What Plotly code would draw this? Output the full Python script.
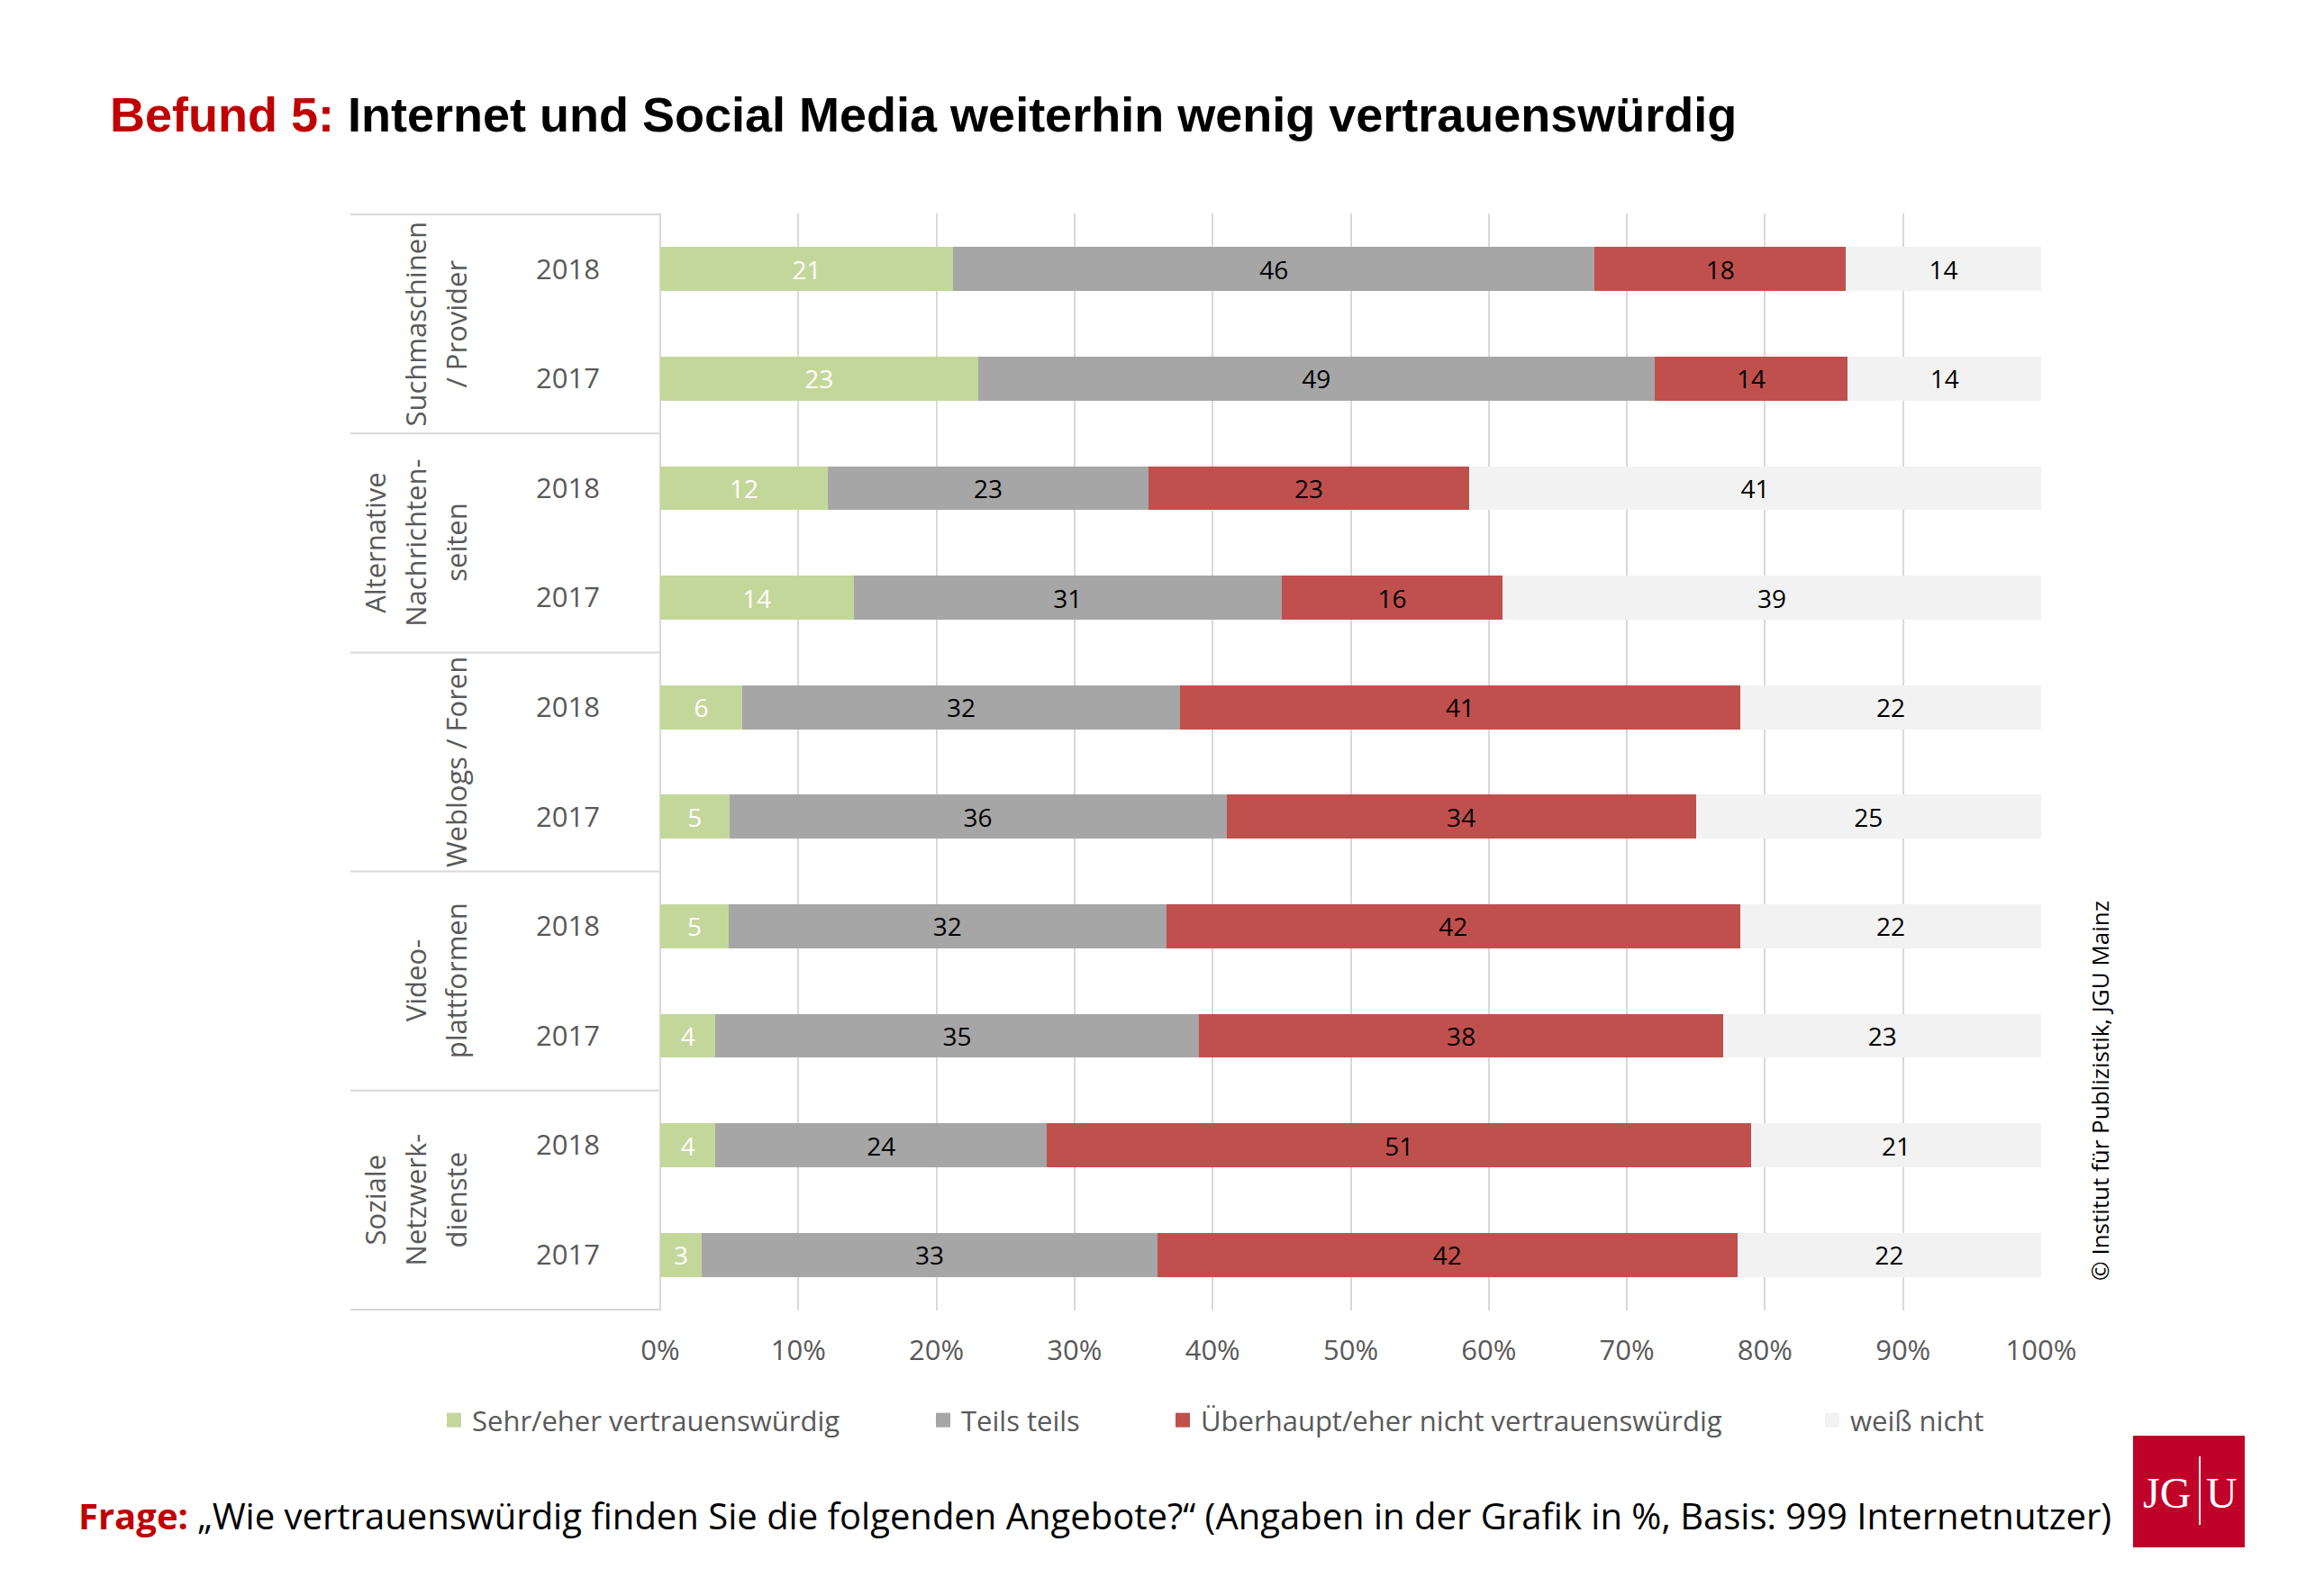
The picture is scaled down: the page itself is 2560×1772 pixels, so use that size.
import plotly.graph_objects as go

# ---------------- data ----------------
groups = ["Suchmaschinen / Provider", "Alternative Nachrichtenseiten", "Weblogs / Foren",
          "Videoplattformen", "Soziale Netzwerkdienste"]
group_label_lines = [["Suchmaschinen", "/ Provider"],
                     ["Alternative", "Nachrichten-", "seiten"],
                     ["Weblogs / Foren"],
                     ["Video-", "plattformen"],
                     ["Soziale", "Netzwerk-", "dienste"]]
years = ["2018", "2017"]
categories = [f"{g} {y}" for g in groups for y in years]   # top to bottom
year_labels = [y for g in groups for y in years]

sehr_eher = [21, 23, 12, 14, 6, 5, 5, 4, 4, 3]
teils_teils = [46, 49, 23, 31, 32, 36, 32, 35, 24, 33]
nicht_vertrauen = [18, 14, 23, 16, 41, 34, 42, 38, 51, 42]
weiss_nicht = [14, 14, 41, 39, 22, 25, 22, 23, 21, 22]

series_names = ["Sehr/eher vertrauenswürdig", "Teils teils",
                "Überhaupt/eher nicht vertrauenswürdig", "weiß nicht"]
series_values = [sehr_eher, teils_teils, nicht_vertrauen, weiss_nicht]
x_ticks = list(range(0, 101, 10))

# ---------------- styles ----------------
W, H = 2560, 1772
L, R, T, B = 733, 2266, 237, 1455
PW, PH = R - L, B - T

colors = ["#C4D79B", "#A6A6A6", "#C0504D", "#F2F2F2"]
text_colors = ["#FFFFFF", "#000000", "#000000", "#000000"]
FONT = "Open Sans, Noto Sans, sans-serif"
NARROW = "Liberation Sans Narrow, Arial Narrow, Liberation Sans, sans-serif"
GREY_TXT = "#595959"
LINE_C = "#D9D9D9"


def xp(px):
    return (px - L) / PW


def yp(py):
    return (B - py) / PH


fig = go.Figure()

for i, (name, vals) in enumerate(zip(series_names, series_values)):
    fig.add_trace(go.Bar(
        y=categories, x=vals, orientation="h", name=name,
        marker=dict(color=colors[i], line=dict(width=0)),
        text=vals, texttemplate="%{text}", textposition="inside",
        insidetextanchor="middle", textangle=0,
        textfont=dict(family=FONT, size=28, color=text_colors[i]),
        width=0.4, showlegend=False, legendgroup=name,
    ))

legend_text_x = [524, 1067, 1333, 2054]
for i, name in enumerate(series_names):
    lg = "legend" if i == 0 else f"legend{i + 1}"
    fig.add_trace(go.Scatter(
        x=[None], y=[None], mode="markers", name=name,
        marker=dict(symbol="square", size=21, color=colors[i], line=dict(width=0)),
        legend=lg, legendgroup=name, showlegend=True, hoverinfo="skip",
    ))

legend_common = dict(orientation="h", xanchor="left", yanchor="middle",
                      y=yp(1577), bgcolor="rgba(0,0,0,0)", borderwidth=0,
                      font=dict(family=FONT, size=31, color=GREY_TXT),
                      itemwidth=30)
layout_legends = {}
for i, tx in enumerate(legend_text_x):
    key = "legend" if i == 0 else f"legend{i + 1}"
    layout_legends[key] = dict(legend_common, x=xp(tx - 40))

shapes = []
# table frame on the left
for k in range(len(groups) + 1):
    shapes.append(dict(type="line", xref="paper", yref="y",
                       x0=xp(389), x1=0, y0=2 * k - 0.5, y1=2 * k - 0.5,
                       line=dict(color=LINE_C, width=2), layer="below"))
shapes.append(dict(type="line", xref="paper", yref="paper", x0=0, x1=0, y0=0, y1=1,
                   line=dict(color=LINE_C, width=2), layer="below"))

annotations = []
# group labels (rotated)
for k, lines in enumerate(group_label_lines):
    n = len(lines)
    for j, line in enumerate(lines):
        cx = 506 - (n - 1 - j) * 45
        annotations.append(dict(
            text=line, xref="paper", yref="y", x=xp(cx), y=2 * k + 0.5,
            xanchor="center", yanchor="middle", textangle=-90, showarrow=False,
            font=dict(family=FONT, size=31, color=GREY_TXT)))

# copyright
annotations.append(dict(
    text="© Institut für Publizistik, JGU Mainz", xref="paper", yref="paper",
    x=xp(2331), y=yp(1211), xanchor="center", yanchor="middle", textangle=-90,
    showarrow=False, font=dict(family=FONT, size=26, color="#000000")))

# question text
annotations.append(dict(
    text="<span style='color:#C00000'><b>Frage:</b></span> „Wie vertrauenswürdig finden Sie die "
         "folgenden Angebote?“ (Angaben in der Grafik in %, Basis: 999 Internetnutzer)",
    xref="paper", yref="paper", x=xp(85), y=yp(1682), xanchor="left", yanchor="middle",
    showarrow=False, font=dict(family=FONT, size=40, color="#000000")))

# JGU logo
LOGO_RED = "#C1002A"
shapes.append(dict(type="rect", xref="paper", yref="paper",
                   x0=xp(2368), x1=xp(2492), y0=yp(1718), y1=yp(1594),
                   fillcolor=LOGO_RED, line=dict(width=0), layer="above"))
shapes.append(dict(type="line", xref="paper", yref="paper",
                   x0=xp(2442), x1=xp(2442), y0=yp(1693), y1=yp(1617),
                   line=dict(color="#FFFFFF", width=2), layer="above"))
annotations.append(dict(text="JG", xref="paper", yref="paper", x=xp(2434), y=yp(1657),
                        xanchor="right", yanchor="middle", showarrow=False,
                        font=dict(family="Liberation Serif, serif", size=48, color="#FFFFFF")))
annotations.append(dict(text="U", xref="paper", yref="paper", x=xp(2447), y=yp(1657),
                        xanchor="left", yanchor="middle", showarrow=False,
                        font=dict(family="Liberation Serif, serif", size=48, color="#FFFFFF")))

fig.update_layout(
    width=W, height=H,
    margin=dict(l=L, r=W - R, t=T, b=H - B, pad=0, autoexpand=False),
    paper_bgcolor="#FFFFFF", plot_bgcolor="#FFFFFF",
    barmode="stack", barnorm="percent", bargap=0.6,
    title=dict(
        text="<span style='color:#C00000'>Befund 5:</span> Internet und Social Media weiterhin wenig vertrauenswürdig",
        x=122 / W, xref="container", xanchor="left",
        y=1 - 127 / H, yref="container", yanchor="middle",
        font=dict(family=NARROW, size=54, color="#000000", weight="bold")),
    xaxis=dict(range=[0, 100], tickvals=x_ticks, ticktext=[f"{v}%" for v in x_ticks],
               showgrid=True, gridcolor=LINE_C, gridwidth=2, zeroline=False,
               showline=False, ticks="", ticklabelstandoff=23,
               tickfont=dict(family=FONT, size=31, color=GREY_TXT)),
    yaxis=dict(type="category", categoryorder="array", categoryarray=categories,
               autorange="reversed", tickvals=categories, ticktext=year_labels,
               showgrid=False, zeroline=False, showline=False, ticks="",
               ticklabelstandoff=66,
               tickfont=dict(family=FONT, size=31, color=GREY_TXT)),
    shapes=shapes, annotations=annotations,
    **layout_legends,
)

fig.write_html("out.html", config={"displayModeBar": False},
               post_script="document.body.style.margin='0';")
